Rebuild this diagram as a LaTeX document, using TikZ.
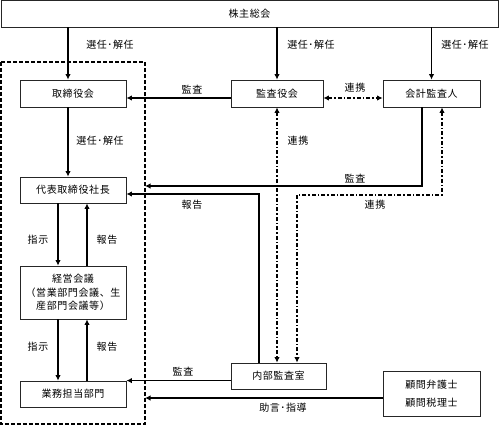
\documentclass[tikz,border=0pt]{standalone}
\usepackage{fontspec}
\newfontfamily\jp{Noto Sans CJK JP}[LetterSpace=6]
\usetikzlibrary{arrows.meta}
\tikzset{
  box/.style={draw=black!85, line width=0.8pt, inner sep=0pt, align=center,
    font=\jp\fontsize{10}{13.5}\selectfont},
  lbl/.style={inner sep=0pt, font=\jp\fontsize{10}{12}\selectfont},
  arr/.style={-{Latex[length=5.5pt,width=5.5pt]}, line width=1.3pt},
  darr/.style={{Latex[length=5.5pt,width=5.5pt]}-{Latex[length=5.5pt,width=5.5pt]},
    line width=1.3pt, dash pattern=on 4pt off 2pt on 1.5pt off 2pt},
}
\begin{document}
\begin{tikzpicture}[x=1pt,y=-1pt]
    \useasboundingbox (0,0) rectangle (500,425);

    %boxes
    \node[box, minimum width=497pt, minimum height=27pt] (agm) at (249.5,13.5) {株主総会};
    \node[box, minimum width=106pt, minimum height=27pt] (board) at (73,93.5) {取締役会};
    \node[box, minimum width=92pt, minimum height=27pt] (auditors) at (277,93.5) {監査役会};
    \node[box, minimum width=97pt, minimum height=27pt] (accountant) at (431.5,93.5) {会計監査人};
    \node[box, minimum width=106pt, minimum height=26pt] (ceo) at (73,190) {代表取締役社長};
    \node[box, minimum width=106pt, minimum height=53pt] (mgmt) at (73,292.5) {経営会議\\（営業部門会議、生\\産部門会議等）};
    \node[box, minimum width=106pt, minimum height=26pt] (ops) at (73,394) {業務担当部門};
    \node[box, minimum width=95pt, minimum height=26pt] (internal) at (278.5,376) {内部監査室};
    \node[box, minimum width=97pt, minimum height=45pt, font=\jp\fontsize{10}{18}\selectfont] (advisors) at (431.5,393.5) {顧問弁護士\\顧問税理士};

    %frame
    \draw[line width=1.3pt, dash pattern=on 4pt off 2pt] (1,62) rectangle (145,424);
    \coordinate (f1) at (145,186);
    \coordinate (f2) at (145,398);

    %election
    \coordinate (b1) at ([xshift=-5pt]board.north);
    \draw[arr] (agm.south -| b1) -- (b1);
    \draw[arr] (agm.south -| auditors.north) -- (auditors.north);
    \draw[arr] (agm.south -| accountant.north) -- (accountant.north);
    \draw[arr] ([xshift=-5pt]board.south) -- ([xshift=-5pt]ceo.north);

    %instructions and reports
    \draw[arr] ([xshift=-15pt]ceo.south) -- ([xshift=-15pt]mgmt.north);
    \draw[arr] ([xshift=14pt]mgmt.north) -- ([xshift=14pt]ceo.south);
    \draw[arr] ([xshift=-15pt]mgmt.south) -- ([xshift=-15pt]ops.north);
    \draw[arr] ([xshift=14pt]ops.north) -- ([xshift=14pt]mgmt.south);

    %audit
    \draw[arr] ([yshift=-4.5pt]auditors.west) -- ([yshift=-4.5pt]board.east);
    \draw[arr] ([xshift=-9.5pt]accountant.south) |- (f1);
    \draw[arr] ([xshift=-19.5pt]internal.north) |- ([yshift=-4pt]ceo.east);
    \draw[arr] (ops.north east -| internal.west) -- (ops.north east);
    \draw[arr] (advisors.west |- f2) -- (f2);

    %cooperation
    \draw[darr] ([yshift=-4.5pt]auditors.east) -- ([yshift=-4.5pt]accountant.west);
    \draw[darr] (auditors.south) -- (auditors.south |- internal.north);
    \coordinate (k1) at ([xshift=10.5pt]accountant.south);
    \coordinate (k2) at ([xshift=18.5pt]internal.north);
    \draw[darr] (k1) -- (k1 |- 0,195) -| (k2);

    %labels
    \node[lbl] (l1) at (110,45) {選任･解任};
    \node[lbl] (l2) at (311,45) {選任･解任};
    \node[lbl] (l3) at (465,45) {選任･解任};
    \node[lbl] (l4) at (192,90) {監査};
    \node[lbl] (l5) at (355,88) {連携};
    \node[lbl] (l6) at (100,141) {選任･解任};
    \node[lbl] (l7) at (298,141) {連携};
    \node[lbl] (l8) at (355,179) {監査};
    \node[lbl] (l9) at (192,205) {報告};
    \node[lbl] (l10) at (375,205) {連携};
    \node[lbl] (l11) at (38,240) {指示};
    \node[lbl] (l12) at (107,240) {報告};
    \node[lbl] (l13) at (38,347) {指示};
    \node[lbl] (l14) at (107,347) {報告};
    \node[lbl] (l15) at (183,372) {監査};
    \node[lbl] (l16) at (283,408) {助言･指導};
  \end{tikzpicture}
\end{document}
